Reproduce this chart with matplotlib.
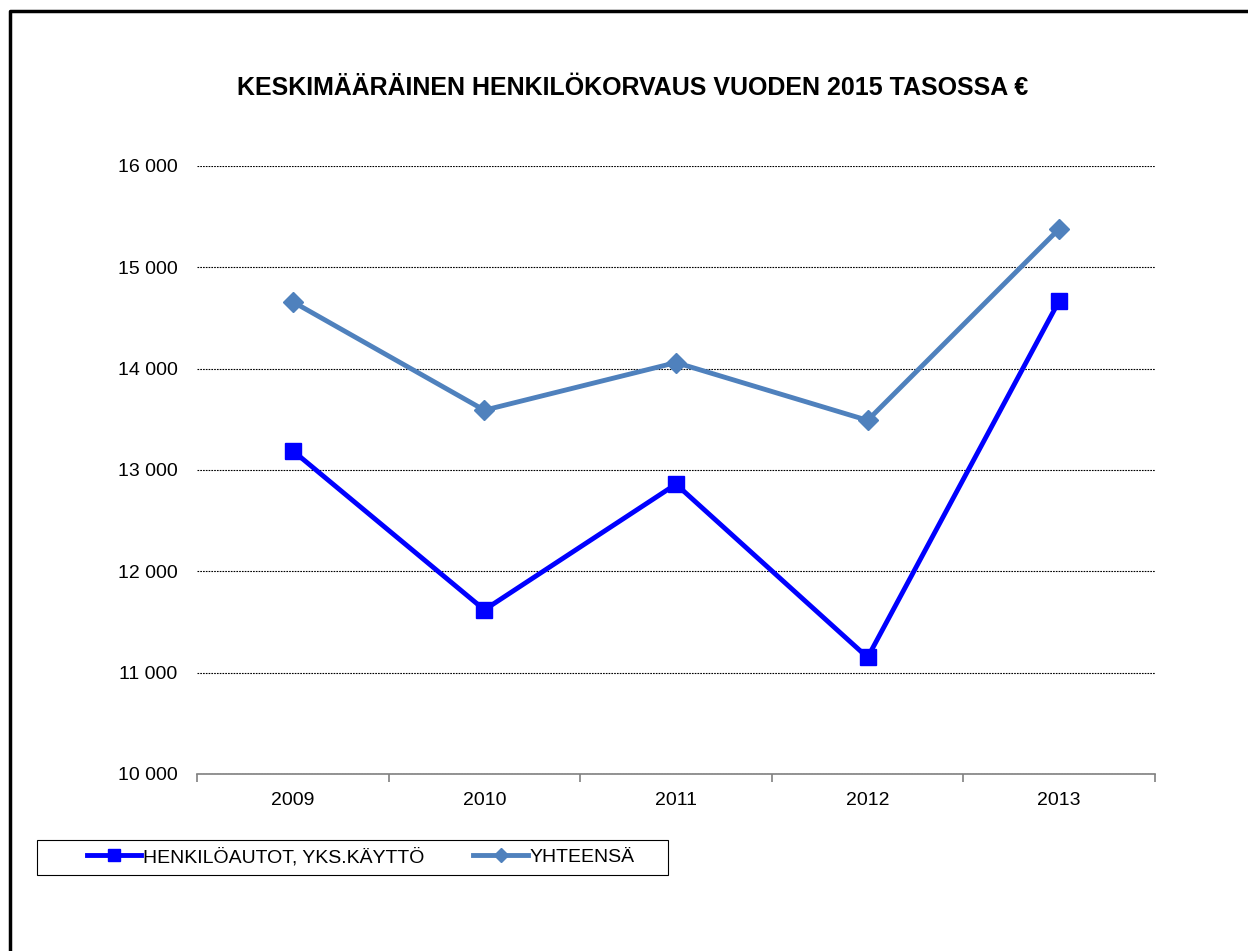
import matplotlib
matplotlib.use("Agg")
import matplotlib.pyplot as plt
from matplotlib.lines import Line2D
from matplotlib.patches import Rectangle
from matplotlib.ticker import FuncFormatter, MultipleLocator

plt.rcParams["font.family"] = ["Liberation Sans", "DejaVu Sans"]

# ── Data ─────────────────────────────────────
years = ["2009", "2010", "2011", "2012", "2013"]
henkiloautot = [13190, 11620, 12860, 11150, 14670]
yhteensa = [14660, 13590, 14060, 13490, 15380]

title = "KESKIMÄÄRÄINEN HENKILÖKORVAUS VUODEN 2015 TASOSSA €"
label_auto = "HENKILÖAUTOT, YKS.KÄYTTÖ"
label_total = "YHTEENSÄ"

W, H = 1248, 951
fig = plt.figure(figsize=(W / 100, H / 100), dpi=100)
ax = fig.add_axes([197 / W, 1 - 774 / H, 958 / W, 608 / H])

x = range(len(years))
ax.plot(x, henkiloautot, color="#0000FF", lw=3.5, marker="s", ms=12,
        label=label_auto, zorder=4)
ax.plot(x, yhteensa, color="#4F81BD", lw=3.5, marker="D", ms=10,
        label=label_total, zorder=3)

ax.set_xlim(-0.5, len(years) - 0.5)
ax.set_ylim(10000, 16000)
ax.yaxis.set_major_locator(MultipleLocator(1000))
ax.yaxis.set_major_formatter(FuncFormatter(lambda v, p: f"{int(v):,}".replace(",", " ")))
ax.grid(axis="y", color="black", lw=0.8, ls=(0, (1.5, 1)))
ax.set_axisbelow(True)

for s in ["top", "right", "left"]:
    ax.spines[s].set_visible(False)
ax.spines["bottom"].set_color("#808080")
ax.spines["bottom"].set_linewidth(1.2)

ax.set_xticks(x)
ax.set_xticklabels(years)
ax.set_xticks([i - 0.5 for i in range(len(years) + 1)], minor=True)
ax.tick_params(axis="x", which="major", length=0, pad=13, labelsize=14)
ax.tick_params(axis="x", which="minor", length=6, color="#808080", width=1.2)
ax.tick_params(axis="y", length=0, pad=14, labelsize=14)

fig.text(633 / W, 1 - 88 / H, title, ha="center", va="center",
         fontsize=18, fontweight="bold")

# legend box drawn separately, entries placed inside
fig.add_artist(Rectangle((37 / W, 1 - 875 / H), 631 / W, 35 / H,
                         transform=fig.transFigure, fill=False,
                         edgecolor="black", lw=0.8))
leg = fig.legend(loc="center left", bbox_to_anchor=(87 / W, 1 - 857 / H),
                 ncol=2, frameon=False, fontsize=14, handlelength=2.8,
                 handletextpad=0.1, columnspacing=2.5, borderpad=0,
                 borderaxespad=0, markerscale=0.7)

# outer frame
fig.add_artist(Line2D([10 / W, 10 / W, 1], [0, 1 - 11 / H, 1 - 11 / H],
                      color="black", lw=2.5, transform=fig.transFigure))

fig.savefig("out.png", dpi=100)
